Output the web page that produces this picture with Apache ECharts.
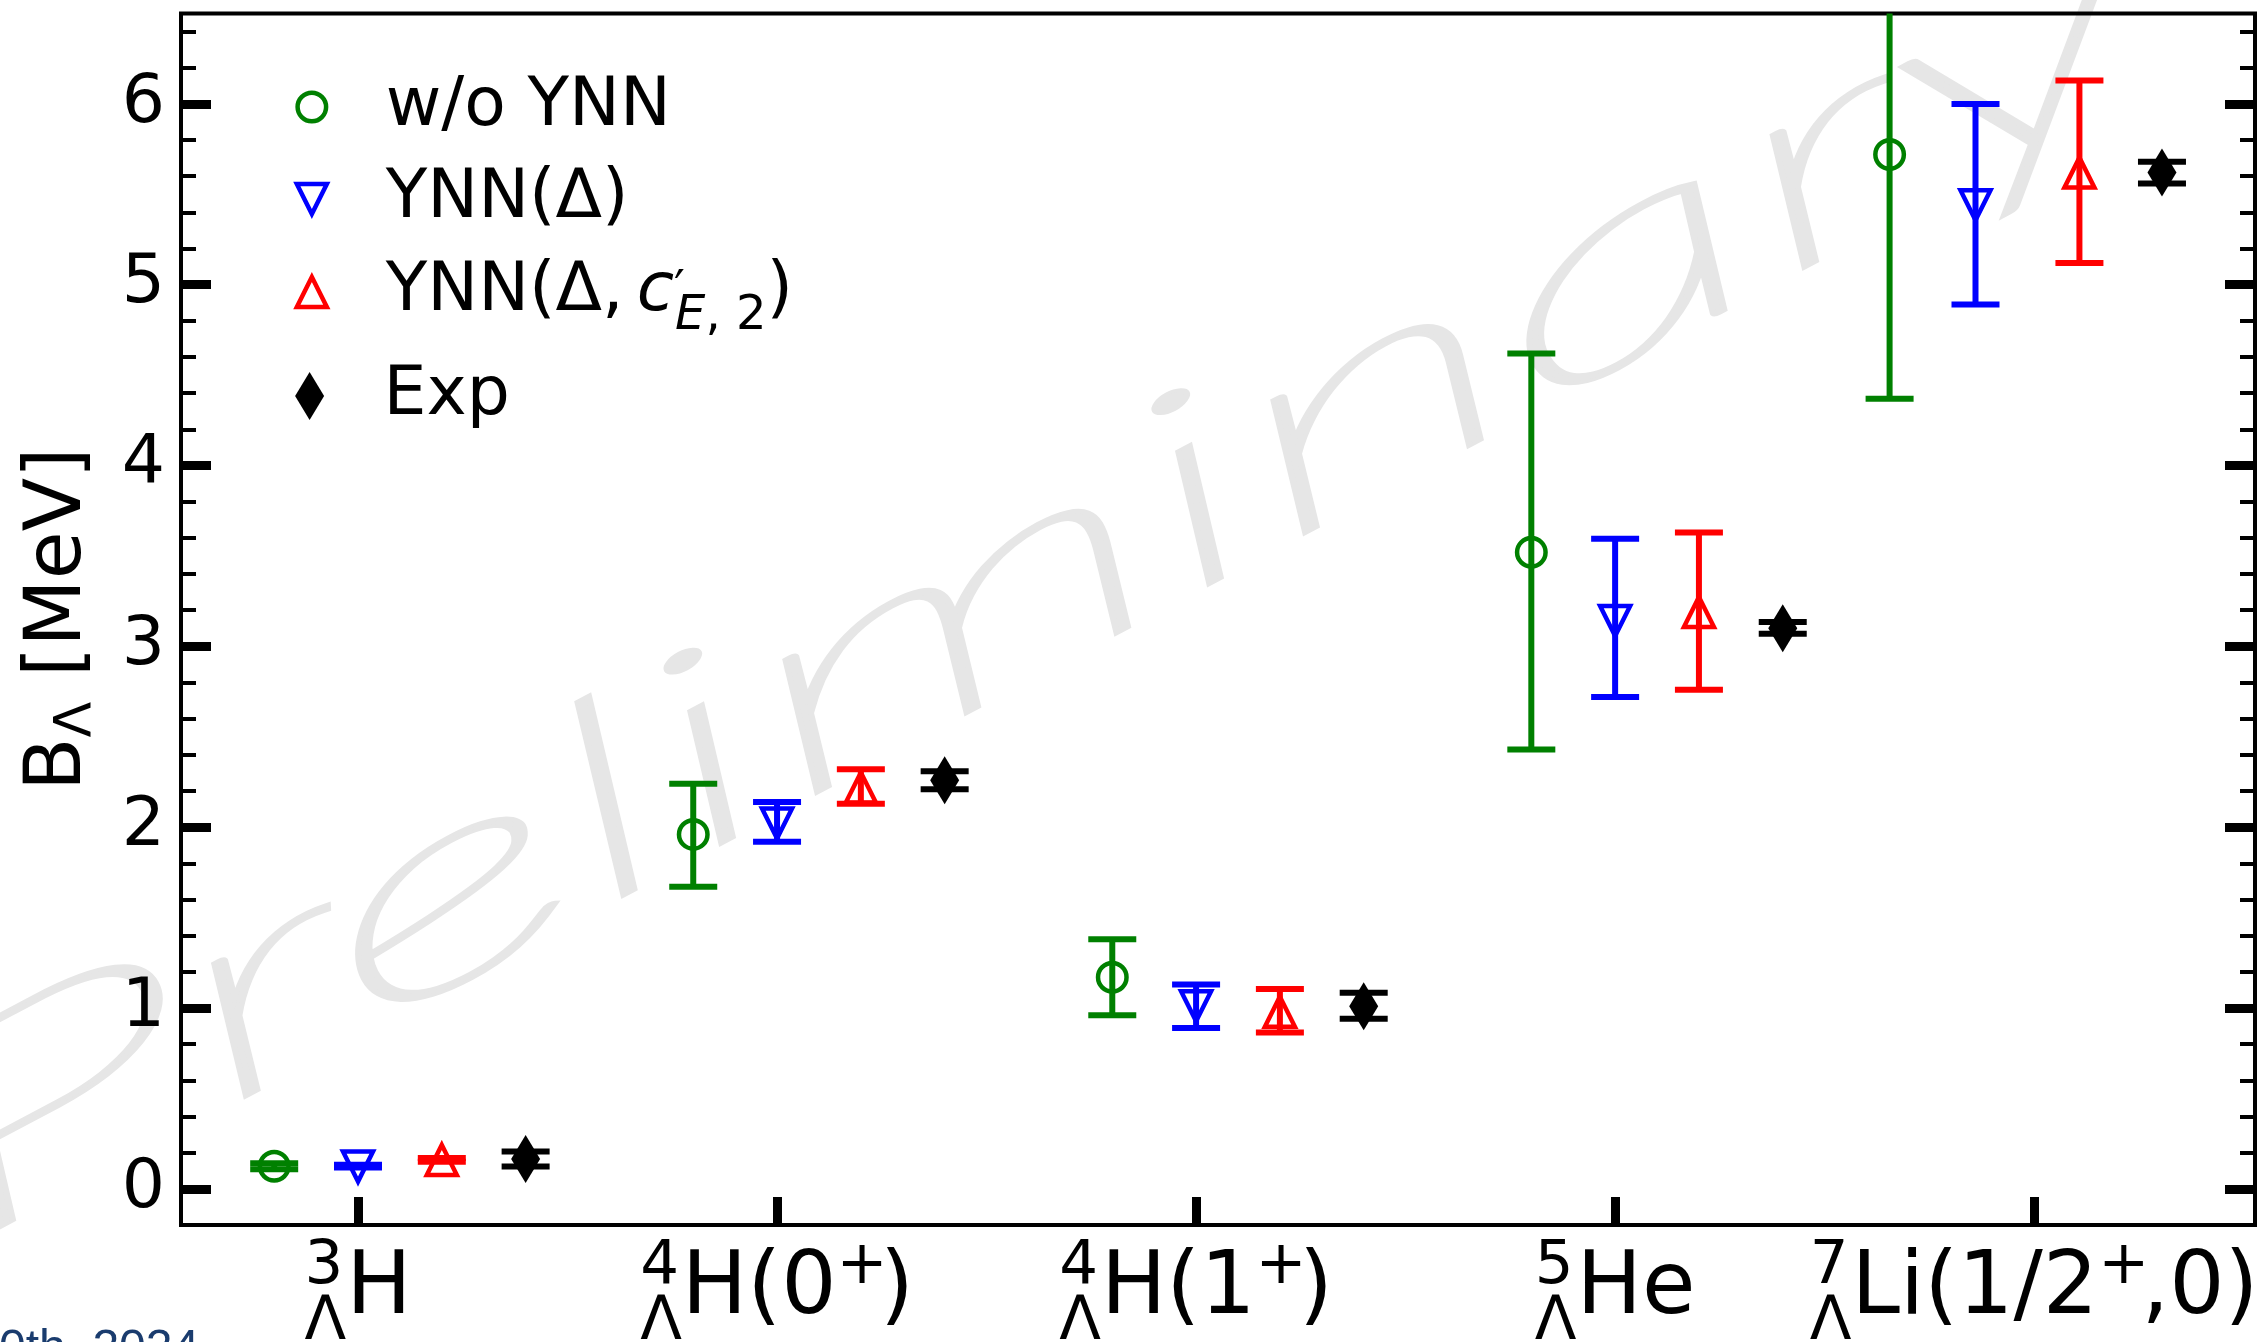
<!DOCTYPE html>
<html>
<head>
<meta charset="utf-8">
<script src="https://cdn.jsdelivr.net/npm/echarts@6/dist/echarts.min.js"></script>
<style>
html,body{margin:0;padding:0;background:#fff;}
#c{width:2266px;height:1342px;}
</style>
</head>
<body>
<div id="c"></div>
<script>
// ---------------- data ----------------
const categoryPos = [0, 1, 2, 3, 4];
const massNumbers = ['3', '4', '4', '5', '7'];
const labelMain = ['H', 'H(0', 'H(1', 'He', 'Li(1/2'];
const labelSup = ['', '+', '+', '', '+'];
const labelTail = ['', ')', ')', '', ',0)'];
const yTickValues = [0, 1, 2, 3, 4, 5, 6];
const yTickLabels = ['0', '1', '2', '3', '4', '5', '6'];

// w/o YNN
const woX = [-0.2, 0.8, 1.8, 2.8, 3.655];
const woY = [0.125, 1.96, 1.17, 3.52, 5.72];
const woLo = [0.109, 1.67, 0.96, 2.43, 4.37];
const woHi = [0.141, 2.24, 1.38, 4.62, 7.07];
// YNN(Delta)
const dX = [0, 1, 2, 3, 3.86];
const dY = [0.123, 2.02, 1.01, 3.14, 5.44];
const dLo = [0.118, 1.92, 0.89, 2.72, 4.89];
const dHi = [0.133, 2.14, 1.13, 3.595, 6.00];
// YNN(Delta, c'E,2)
const dcX = [0.2, 1.2, 2.2, 3.2, 4.108];
const dcY = [0.16, 2.22, 0.98, 3.19, 5.62];
const dcLo = [0.15, 2.13, 0.865, 2.76, 5.12];
const dcHi = [0.17, 2.32, 1.105, 3.63, 6.13];
// Exp
const expX = [0.4, 1.4, 2.4, 3.4, 4.305];
const expY = [0.165, 2.26, 1.01, 3.10, 5.62];
const expLo = [0.123, 2.21, 0.94, 3.07, 5.56];
const expHi = [0.207, 2.31, 1.085, 3.135, 5.68];

// axis ranges
const xMin = -0.4224, xMax = 4.527;
const yMin = -0.2, yMax = 6.5;

// ---------------- helpers ----------------
const FAM = 'DejaVu Sans';
const minorTickValues = [];
for (let k = 1; k <= 32; k++) { if (k % 5 !== 0) minorTickValues.push(k / 5); }

const GREEN = '#008000', BLUE = '#0000ff', RED = '#ff0000', BLACK = '#000000';

function pts(xs, ys) { return xs.map((x, i) => [x, ys[i]]); }
function bars(xs, lo, hi) { return xs.map((x, i) => [x, lo[i], hi[i]]); }

const mctx = document.createElement('canvas').getContext('2d');
function tw(t, font) { if (!t) return 0; mctx.font = font; return mctx.measureText(t).width; }

function errorBarSeries(data, color) {
  return {
    type: 'custom', silent: true, clip: true, z: 3,
    encode: { x: 0, y: [1, 2] },
    data: data,
    renderItem: function (params, api) {
      const x = api.value(0), lo = api.value(1), hi = api.value(2);
      const a = api.coord([x, lo]), b = api.coord([x, hi]);
      const half = 24;
      const st = { stroke: color, lineWidth: 6 };
      return {
        type: 'group',
        children: [
          { type: 'line', shape: { x1: a[0], y1: a[1], x2: b[0], y2: b[1] }, style: st },
          { type: 'line', shape: { x1: a[0] - half, y1: a[1], x2: a[0] + half, y2: a[1] }, style: st },
          { type: 'line', shape: { x1: b[0] - half, y1: b[1], x2: b[0] + half, y2: b[1] }, style: st }
        ]
      };
    }
  };
}

const fMain = '87px "' + FAM + '"';
const fScript = '61px "' + FAM + '"';
function txt(t, x, y, font) {
  return { type: 'text', style: { text: t, x: x, y: y, font: font, fill: '#000',
    textAlign: 'left', align: 'left', textVerticalAlign: 'middle', verticalAlign: 'middle' } };
}
function renderTickLabel(params, api) {
  const i = params.dataIndex;
  const p = api.coord([api.value(0), api.value(1)]);
  const wPre = Math.max(tw(massNumbers[i], fScript), tw('Λ', fScript));
  const wMain = tw(labelMain[i], fMain);
  const wSup = tw(labelSup[i], fScript) * 0.85;
  const wTail = tw(labelTail[i], fMain);
  const total = wPre + wMain + wSup + wTail;
  const x0 = p[0] - total / 2;
  const yMainMid = p[1] + 65, ySupMid = p[1] + 42, ySubMid = p[1] + 98.5;
  const ch = [
    txt(massNumbers[i], x0, ySupMid, fScript),
    txt('Λ', x0, ySubMid, fScript),
    txt(labelMain[i], x0 + wPre, yMainMid, fMain)
  ];
  if (labelSup[i]) ch.push(txt(labelSup[i], x0 + wPre + wMain, ySupMid, fScript));
  if (labelTail[i]) ch.push(txt(labelTail[i], x0 + wPre + wMain + wSup, yMainMid, fMain));
  return { type: 'group', children: ch };
}

const legendDisplay = { wo: 'w/o YNN', d: 'YNN(Δ)', dc: '{n|YNN(Δ,}{g| }{i|c}{p|′}{s|E}{t|, 2}{n|)}', exp: 'Exp' };
const LEG_ICON_CX = 309.6, LEG_TEXT_X = 383.5;
function makeLegend(name, icon, itemStyle, centerY, w, h) {
  const left = LEG_ICON_CX - w / 2;
  const spacer = LEG_TEXT_X - (left + w + 5);
  return {
    show: true, selectedMode: false, orient: 'vertical',
    left: left, top: centerY - 35, padding: 0,
    itemWidth: w, itemHeight: h, itemGap: 0, symbolKeepAspect: false,
    formatter: function (n) { return '{sp| }' + (n === 'dc' ? legendDisplay[n] : '{n|' + legendDisplay[n] + '}'); },
    textStyle: {
      fontFamily: FAM, fontSize: 68, color: '#000', lineHeight: 70,
      rich: {
        sp: { fontFamily: FAM, fontSize: 68, lineHeight: 70, width: spacer },
        g: { fontFamily: FAM, fontSize: 68, lineHeight: 70, width: 13 },
        n: { fontFamily: FAM, fontSize: 68, lineHeight: 70, color: '#000' },
        i: { fontFamily: FAM, fontSize: 68, fontStyle: 'italic', lineHeight: 70, color: '#000' },
        p: { fontFamily: FAM, fontSize: 48, lineHeight: 70, width: 1, color: '#000' },
        s: { fontFamily: FAM, fontSize: 48, fontStyle: 'italic', height: 20, lineHeight: 20, verticalAlign: 'bottom', color: '#000' },
        t: { fontFamily: FAM, fontSize: 48, height: 20, lineHeight: 20, verticalAlign: 'bottom', color: '#000' }
      }
    },
    data: [{ name: name, icon: icon, itemStyle: itemStyle }]
  };
}

function yAxisBase(pos, major) {
  return {
    type: 'value', min: yMin, max: yMax, position: pos,
    axisLine: { show: false, onZero: false }, splitLine: { show: false },
    axisLabel: { show: false },
    axisTick: major
      ? { show: true, inside: true, length: 30, lineStyle: { color: '#000', width: 9 }, customValues: yTickValues }
      : { show: true, inside: true, length: 15, lineStyle: { color: '#000', width: 4 }, customValues: minorTickValues }
  };
}

const yMain = yAxisBase('left', true);
yMain.axisLabel = {
  show: true, customValues: yTickValues, margin: 16,
  fontFamily: FAM, fontSize: 68, color: '#000',
  formatter: function (v) { const k = yTickValues.indexOf(Math.round(v)); return k >= 0 ? yTickLabels[k] : ''; }
};
yMain.name = '{b|B}{s|Λ}{b| [MeV]}';
yMain.nameLocation = 'middle';
yMain.nameRotate = 90;
yMain.nameGap = 81;
yMain.nameTextStyle = {
  fontFamily: FAM, fontSize: 78, color: '#000',
  rich: {
    b: { fontFamily: FAM, fontSize: 78, lineHeight: 80, color: '#000' },
    s: { fontFamily: FAM, fontSize: 52, height: 46, lineHeight: 46, verticalAlign: 'bottom', color: '#000' }
  }
};

const option = {
  animation: false,
  backgroundColor: '#ffffff',
  textStyle: { fontFamily: FAM },
  grid: { left: 181, right: 11, top: 13.5, bottom: 117, show: true, borderColor: '#000', borderWidth: 4,
          backgroundColor: 'transparent', containLabel: false, outerBoundsMode: 'none' },
  xAxis: [{
    type: 'value', min: xMin, max: xMax, position: 'bottom',
    axisLine: { show: false, onZero: false }, splitLine: { show: false }, axisLabel: { show: false },
    axisTick: { show: true, inside: true, length: 28, lineStyle: { color: '#000', width: 9 }, customValues: categoryPos }
  }],
  yAxis: [yMain, yAxisBase('left', false), yAxisBase('right', true), yAxisBase('right', false)],
  legend: [
    makeLegend('wo', 'circle', { color: 'rgba(0,0,0,0)', borderColor: GREEN, borderWidth: 4.5 }, 107, 28.5, 28.5),
    makeLegend('d', 'path://M0,0L2,0L1,2Z', { color: 'rgba(0,0,0,0)', borderColor: BLUE, borderWidth: 4.5 }, 199, 30, 30),
    makeLegend('dc', 'path://M1,0L2,2L0,2Z', { color: 'rgba(0,0,0,0)', borderColor: RED, borderWidth: 4.5 }, 292, 30, 30),
    makeLegend('exp', 'path://M1,0L1.6,1L1,2L0.4,1Z', { color: BLACK, borderWidth: 0 }, 396, 29, 48)
  ],
  graphic: [
    {
      type: 'text', z: -1, silent: true,
      x: -73, y: 1168, rotation: 28 * Math.PI / 180, scaleX: 2.15, scaleY: 1,
      style: { text: 'Preliminary', font: 'italic 100 265px Lato', fill: '#e6e6e6',
               stroke: '#e6e6e6', lineWidth: 6,
               textAlign: 'left', align: 'left', textVerticalAlign: 'middle', verticalAlign: 'middle' }
    },
    {
      type: 'text', z: 1, silent: true, x: -1, y: 1326,
      style: { text: '0th, 2024', font: '48px "Liberation Sans"', fill: '#1a3c6e',
               textAlign: 'left', align: 'left', textVerticalAlign: 'top', verticalAlign: 'top' }
    }
  ],
  series: [
    errorBarSeries(bars(woX, woLo, woHi), GREEN),
    errorBarSeries(bars(dX, dLo, dHi), BLUE),
    errorBarSeries(bars(dcX, dcLo, dcHi), RED),
    errorBarSeries(bars(expX, expLo, expHi), BLACK),
    { type: 'scatter', name: 'wo', silent: true, z: 4, data: pts(woX, woY), symbol: 'circle', symbolSize: 28.5,
      itemStyle: { color: 'rgba(0,0,0,0)', borderColor: GREEN, borderWidth: 4.5, opacity: 1 } },
    { type: 'scatter', name: 'd', silent: true, z: 4, data: pts(dX, dY), symbol: 'triangle', symbolRotate: 180, symbolSize: 30,
      itemStyle: { color: 'rgba(0,0,0,0)', borderColor: BLUE, borderWidth: 4.5, opacity: 1 } },
    { type: 'scatter', name: 'dc', silent: true, z: 4, data: pts(dcX, dcY), symbol: 'triangle', symbolSize: 30,
      itemStyle: { color: 'rgba(0,0,0,0)', borderColor: RED, borderWidth: 4.5, opacity: 1 } },
    { type: 'scatter', name: 'exp', silent: true, z: 4, data: pts(expX, expY), symbol: 'diamond', symbolSize: [29, 48],
      itemStyle: { color: BLACK, borderWidth: 0, opacity: 1 } },
    { type: 'custom', silent: true, clip: false, z: 5, encode: { x: 0, y: 1 },
      data: categoryPos.map(v => [v, yMin]), renderItem: renderTickLabel }
  ]
};

const chart = echarts.init(document.getElementById('c'), null, { renderer: 'canvas', width: 2266, height: 1342 });
chart.setOption(option);
</script>
</body>
</html>
